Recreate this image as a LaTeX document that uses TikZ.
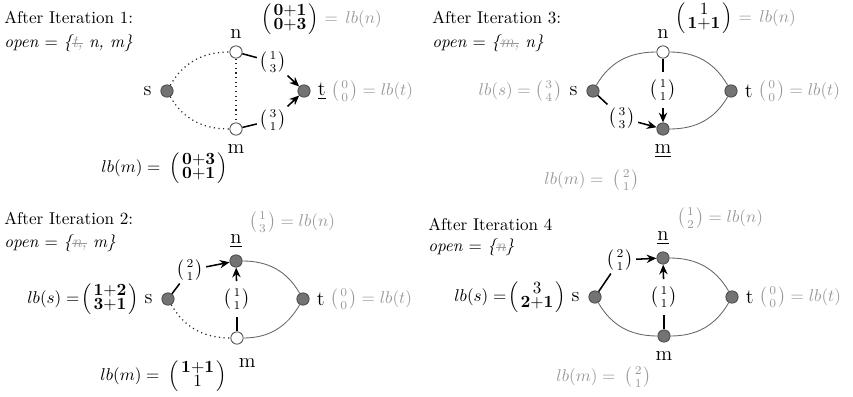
\documentclass[tikz,border=0pt]{standalone}
\usepackage{amsmath}
\usetikzlibrary{positioning,arrows.meta}

\newcommand{\gone}[1]{{\color{black!40}\sbox0{#1}\rlap{\rule[0.5ex]{\wd0}{0.4pt}}\usebox0}}
\newcommand{\bv}[1]{{\textstyle\mathbf{#1}}}
\newcommand{\vv}[2]{\left(\genfrac{}{}{0pt}{1}{#1}{#2}\right)}

\begin{document}
\begin{tikzpicture}[
  x=0.585pt, y=0.585pt,
  vtx/.style={circle, draw=black!70, fill=black!55, minimum size=7.2pt,
              inner sep=0pt, line width=0.5pt},
  opn/.style={vtx, fill=white},
  tag/.style={font=\large, inner sep=1pt},
  wt/.style={inner sep=1.5pt},
  wtv/.style={inner xsep=1.5pt, inner ysep=4pt},
  dots/.style={dotted, line width=0.7pt, black!85},
  road/.style={line width=0.5pt, black!60},
  pre/.style={line width=0.9pt, black},
  flow/.style={pre, -{Stealth[length=2mm, width=1.7mm]}},
  lbl/.style={inner sep=0pt, text=black!40},
  txt/.style={inner sep=0pt, anchor=west},
]
  \useasboundingbox (0,0) rectangle (853,-397);

  % Iteration 1
  \node[txt] (ttl1) at (4,-17) {After Iteration 1:};
  \node[txt] (opn1) at (4,-43) {\textit{open} $=$ \textit{\{\gone{t,} n, m\}}};
  \node[vtx] (s1) at (167,-91) {};
  \node[opn] (n1) at (236,-52) {};
  \node[opn] (m1) at (236,-129) {};
  \node[vtx] (t1) at (304,-91) {};
  \node[tag, left=4pt of s1] (sl1) {s};
  \node[tag, above=3pt of n1] (nl1) {n};
  \node[tag, below=4pt of m1] (ml1) {m};
  \node[tag, right=3pt of t1] (tl1) {\underline{t}};
  \node[wt] (wn1) at (273,-62) {$\vv{1}{3}$};
  \node[wt] (wm1) at (273,-120) {$\vv{3}{1}$};
  \draw[dots] (s1) to[out=60, in=180] (n1);
  \draw[dots] (s1) to[out=-60, in=180] (m1);
  \draw[dots] (n1) -- (m1);
  \draw[pre] (n1) -- (wn1);
  \draw[flow] (wn1) -- (t1);
  \draw[pre] (m1) -- (wm1);
  \draw[flow] (wm1) -- (t1);
  \node[lbl, anchor=west] (lbn1) at (261,-19)
    {\textcolor{black}{$\vv{\bv{0{+}1}}{\bv{0{+}3}}$} $=\, lb(n)$};
  \node[lbl, right=2pt of tl1] (lbt1) {$\vv{0}{0} = lb(t)$};
  \node[txt] (lbm1) at (101,-168) {$lb(m) =\; \vv{\bv{0{+}3}}{\bv{0{+}1}}$};

  % Iteration 2
  \node[txt] (ttl2) at (4,-218) {After Iteration 2:};
  \node[txt] (opn2) at (4,-243) {\textit{open} $=$ \textit{\{\gone{n,} m\}}};
  \node[vtx] (s2) at (168,-299) {};
  \node[vtx] (n2) at (236,-261) {};
  \node[opn] (m2) at (237,-338) {};
  \node[vtx] (t2) at (303,-299) {};
  \node[tag, left=4pt of s2] (sl2) {s};
  \node[tag, above=3pt of n2] (nl2) {\underline{n}};
  \node[tag, below=7pt of m2, xshift=6pt] (ml2) {m};
  \node[tag, right=3pt of t2] (tl2) {t};
  \node[wt] (wn2) at (190,-270) {$\vv{2}{1}$};
  \node[wtv] (wm2) at (237,-299) {$\vv{1}{1}$};
  \draw[dots] (s2) to[out=-60, in=180] (m2);
  \draw[road] (n2) to[out=0, in=120] (t2);
  \draw[road] (m2) to[out=0, in=-120] (t2);
  \draw[pre] (s2) -- (wn2);
  \draw[flow] (wn2) -- (n2);
  \draw[pre] (m2) -- (wm2);
  \draw[flow] (wm2) -- (n2);
  \node[lbl, anchor=west] (lbn2) at (249,-222) {$\vv{1}{3} = lb(n)$};
  \node[inner sep=0pt, left=2pt of sl2] (lbs2) {$lb(s) =\! \vv{\bv{1{+}2}}{\bv{3{+}1}}$};
  \node[lbl, right=2pt of tl2] (lbt2) {$\vv{0}{0} = lb(t)$};
  \node[txt] (lbm2) at (100,-376) {$lb(m) =\; \vv{\bv{1{+}1}}{\textstyle 1}$};

  % Iteration 3
  \node[txt] (ttl3) at (432,-18) {After Iteration 3:};
  \node[txt] (opn3) at (432,-43) {\textit{open} $=$ \textit{\{\gone{m,} n\}}};
  \node[vtx] (s3) at (593,-91) {};
  \node[opn] (n3) at (663,-52) {};
  \node[vtx] (m3) at (663,-129) {};
  \node[vtx] (t3) at (731,-91) {};
  \node[tag, left=4pt of s3] (sl3) {s};
  \node[tag, above=3pt of n3] (nl3) {n};
  \node[tag, below=4pt of m3] (ml3) {\underline{m}};
  \node[tag, right=3pt of t3] (tl3) {t};
  \node[wt] (ws3) at (622,-118) {$\vv{3}{3}$};
  \node[wtv] (wn3) at (663,-90) {$\vv{1}{1}$};
  \draw[road] (s3) to[out=60, in=180] (n3);
  \draw[road] (n3) to[out=0, in=120] (t3);
  \draw[road] (m3) to[out=0, in=-120] (t3);
  \draw[pre] (s3) -- (ws3);
  \draw[flow] (ws3) -- (m3);
  \draw[pre] (n3) -- (wn3);
  \draw[flow] (wn3) -- (m3);
  \node[lbl, anchor=west] (lbn3) at (675,-18)
    {\textcolor{black}{$\vv{\textstyle 1}{\bv{1{+}1}}$} $=\, lb(n)$};
  \node[lbl, left=3pt of sl3] (lbs3) {$lb(s) = \vv{3}{4}$};
  \node[lbl, right=2pt of tl3] (lbt3) {$\vv{0}{0} = lb(t)$};
  \node[lbl, anchor=west] (lbm3) at (544,-180) {$lb(m) =\; \vv{2}{1}$};

  % Iteration 4
  \node[txt] (ttl4) at (428,-224) {After Iteration 4};
  \node[txt] (opn4) at (428,-247) {\textit{open} $=$ \textit{\{\gone{n}\}}};
  \node[vtx] (s4) at (595,-297) {};
  \node[vtx] (n4) at (663,-258) {};
  \node[vtx] (m4) at (664,-336) {};
  \node[vtx] (t4) at (732,-297) {};
  \node[tag, left=4pt of s4] (sl4) {s};
  \node[tag, above=3pt of n4] (nl4) {\underline{n}};
  \node[tag, below=4pt of m4] (ml4) {m};
  \node[tag, right=3pt of t4] (tl4) {t};
  \node[wt] (wn4) at (620,-260) {$\vv{2}{1}$};
  \node[wtv] (wm4) at (664,-297) {$\vv{1}{1}$};
  \draw[road] (s4) to[out=-60, in=180] (m4);
  \draw[road] (n4) to[out=0, in=120] (t4);
  \draw[road] (m4) to[out=0, in=-120] (t4);
  \draw[pre] (s4) -- (wn4);
  \draw[flow] (wn4) -- (n4);
  \draw[pre] (m4) -- (wm4);
  \draw[flow] (wm4) -- (n4);
  \node[lbl, anchor=west] (lbn4) at (677,-218) {$\vv{1}{2} = lb(n)$};
  \node[inner sep=0pt, left=2pt of sl4] (lbs4) {$lb(s) =\! \vv{\textstyle 3}{\bv{2{+}1}}$};
  \node[lbl, right=2pt of tl4] (lbt4) {$\vv{0}{0} = lb(t)$};
  \node[lbl, anchor=west] (lbm4) at (556,-377) {$lb(m) =\; \vv{2}{1}$};
\end{tikzpicture}
\end{document}
